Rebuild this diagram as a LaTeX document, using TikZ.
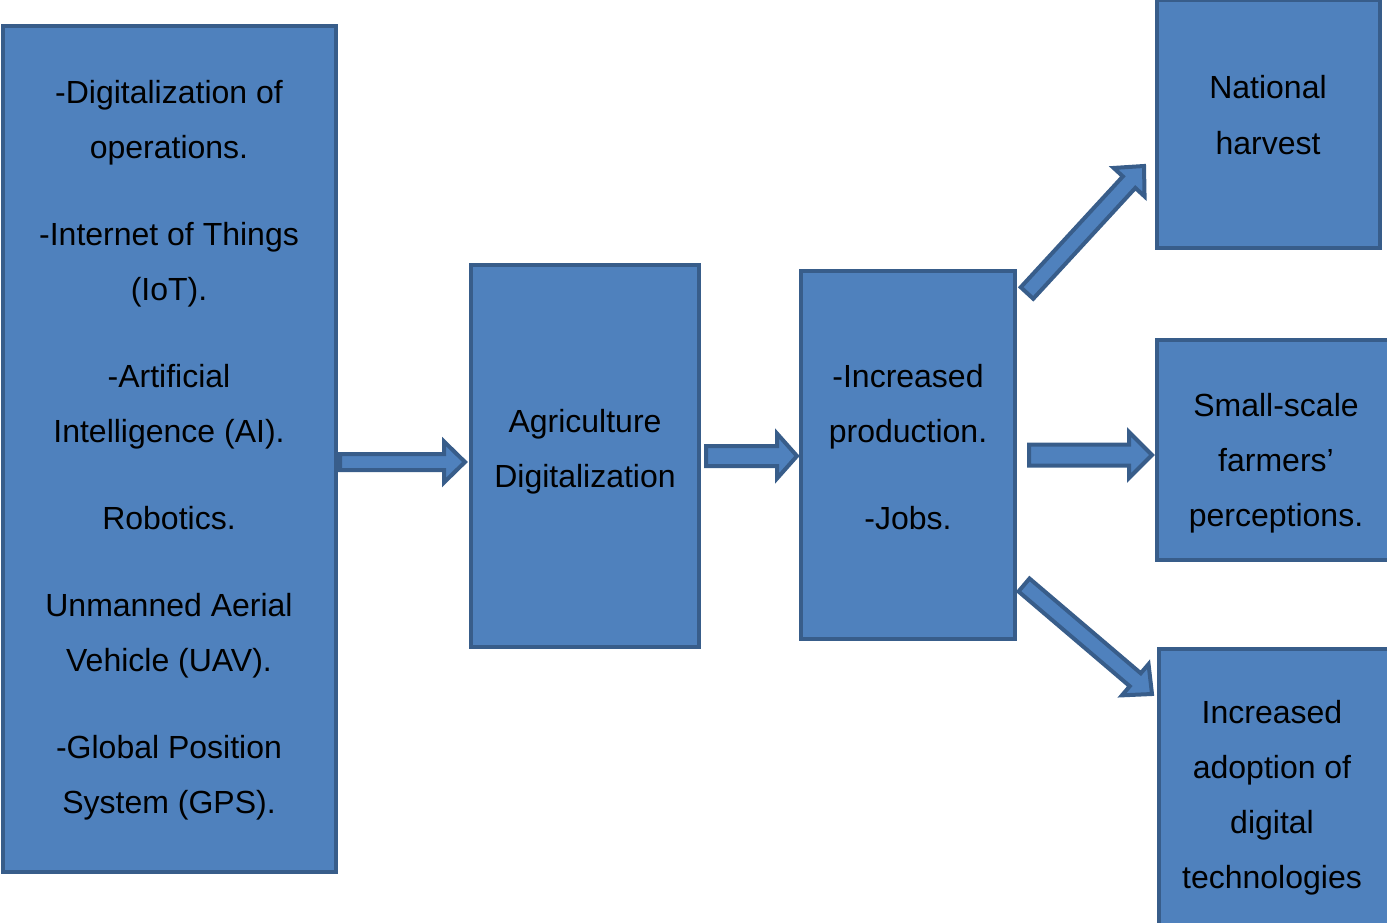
\documentclass[tikz,border=0pt]{standalone}
\usepackage{fontspec}
\setmainfont{Liberation Sans}
\usepackage{tikz}
\usetikzlibrary{calc}
\definecolor{boxfill}{HTML}{4F81BD}
\definecolor{boxline}{HTML}{385D8A}
\tikzset{blk/.style={rectangle,draw=boxline,fill=boxfill,line width=4pt,inner sep=0pt},
         txt/.style={align=center,font=\fontsize{32}{55}\selectfont,text height=23pt,text depth=7pt,inner sep=0pt},
         barrow/.style={draw=boxline,fill=boxfill,line width=4pt,line join=miter}}
% block arrow: from, to, shaft width, head width, head length
\newcommand{\blockarrow}[5]{%
  \path[barrow] let \p1=($(#2)-(#1)$), \n1={veclen(\x1,\y1)}, \n2={atan2(\y1,\x1)} in
    [shift={(#1)},rotate=\n2]
    (0pt,-#3/2) -- (\n1-#5,-#3/2) -- (\n1-#5,-#4/2) -- (\n1,0pt)
    -- (\n1-#5,#4/2) -- (\n1-#5,#3/2) -- (0pt,#3/2) -- cycle;
}

\begin{document}
\begin{tikzpicture}[x=1pt,y=-1pt]
    \useasboundingbox (0,0) rectangle (1387,923);

    \node[blk,minimum width=333pt,minimum height=846pt] (src) at (169.5,449) {};
    \node[blk,minimum width=228pt,minimum height=382pt] (dig) at (585,456) {};
    \node[blk,minimum width=214pt,minimum height=368pt] (res) at (908,455) {};
    \node[blk,minimum width=223pt,minimum height=248pt] (nat) at (1268.5,124) {};
    \node[blk,minimum width=236pt,minimum height=220pt] (farm) at (1275,450) {};
    \node[blk,minimum width=234pt,minimum height=289pt] (adop) at (1276,793.5) {};

    % text nodes sit on their last line
    \node[txt] (srctxt) at (169,805) {-Digitalization of\\operations.\\[32pt]-Internet of Things\\(IoT).\\[32pt]-Artificial\\Intelligence (AI).\\[32pt]Robotics.\\[32pt]Unmanned Aerial\\Vehicle (UAV).\\[32pt]-Global Position\\System (GPS).};
    \node[txt] (digtxt) at (585,479) {Agriculture\\Digitalization};
    \node[txt] (restxt) at (908,521) {-Increased\\production.\\[32pt]-Jobs.};
    \node[txt] (nattxt) at (1268,146) {National\\harvest};
    \node[txt] (farmtxt) at (1276,518) {Small-scale\\farmers’\\perceptions.};
    \node[txt] (adoptxt) at (1272,880) {Increased\\adoption of\\digital\\technologies};

    \coordinate (a1s) at (340,462);
    \coordinate (a1e) at (465,462);
    \coordinate (a2s) at (706,456);
    \coordinate (a2e) at (797,456);
    \coordinate (a3s) at (1029,455);
    \coordinate (a3e) at (1152,455);
    \coordinate (a4s) at (1027,293);
    \coordinate (a4e) at (1144,166);
    \coordinate (a5s) at (1024,585);
    \coordinate (a5e) at (1152,694);

    \blockarrow{a1s}{a1e}{16pt}{41pt}{21pt}
    \blockarrow{a2s}{a2e}{20pt}{45pt}{20pt}
    \blockarrow{a3s}{a3e}{21pt}{46pt}{23pt}
    \blockarrow{a4s}{a4e}{17pt}{42pt}{22pt}
    \blockarrow{a5s}{a5e}{17pt}{41pt}{22pt}
\end{tikzpicture}
\end{document}
